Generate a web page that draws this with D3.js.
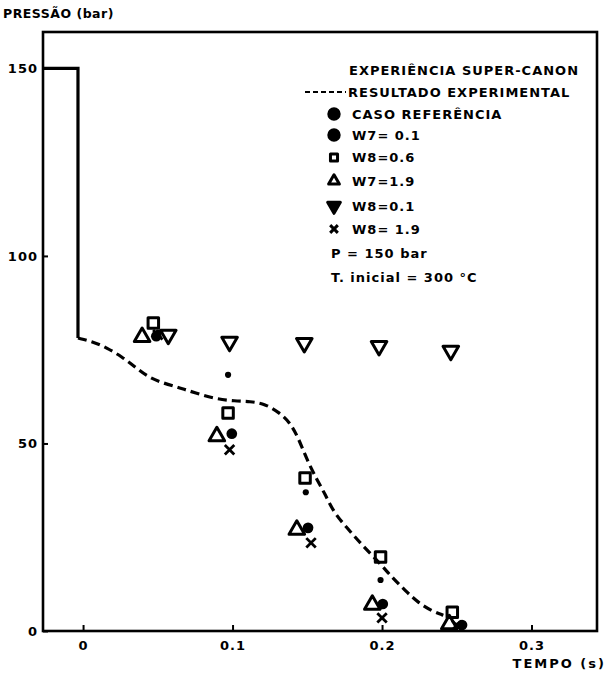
<!DOCTYPE html>
<html><head><meta charset="utf-8">
<script src="https://cdn.jsdelivr.net/npm/d3@7"></script>
<style>
body{margin:0;background:#fff;}
svg text{font-family:"DejaVu Sans",sans-serif;font-weight:bold;fill:#000;}
</style></head>
<body><svg id="c" width="609" height="681"></svg>
<script>
// ---------- data ----------
const xTicks = [0, 0.1, 0.2, 0.3];
const yTicks = [0, 50, 100, 150];
const xTickLabels = ["0", "0.1", "0.2", "0.3"];
const yTickLabels = ["0", "50", "100", "150"];

// solid initial pressure step (bar)
const stepTime = [-0.0268, -0.0034, -0.0034];
const stepPressure = [150, 150, 78.1];

// experimental result (dashed)
const expTime = [-0.0034, 0.0067, 0.016, 0.026, 0.0348, 0.0435, 0.0535, 0.0649, 0.0749, 0.0883, 0.1017, 0.1117, 0.1217, 0.1318, 0.1385, 0.1438, 0.1498, 0.1565, 0.1619, 0.1679, 0.1766, 0.186, 0.1987, 0.206, 0.216, 0.224, 0.234, 0.241];
const expPressure = [78.1, 77.1, 75.5, 73.1, 70.4, 67.7, 66.1, 64.8, 63.5, 61.9, 61.3, 61.2, 60.6, 58.1, 55.5, 51.7, 45.6, 40.3, 36.5, 31.5, 27.5, 23.2, 18.0, 14.6, 10.6, 7.6, 5.2, 4.2];

// simulated cases
const refTime = [0.05, 0.097, 0.149, 0.199, 0.251];
const refPressure = [79.5, 68.3, 37.0, 13.6, 1.5];

const w7_01Time = [0.049, 0.0995, 0.1505, 0.2005, 0.2535];
const w7_01Pressure = [78.6, 52.6, 27.5, 7.2, 1.6];

const w8_06Time = [0.047, 0.097, 0.1485, 0.199, 0.247];
const w8_06Pressure = [82.1, 58.1, 40.8, 19.7, 5.0];

const w7_19Time = [0.0395, 0.0895, 0.143, 0.1935, 0.245];
const w7_19Pressure = [78.4, 51.9, 27.0, 7.0, 1.8];

const w8_01Time = [0.057, 0.098, 0.148, 0.198, 0.246];
const w8_01Pressure = [79.0, 77.1, 76.8, 76.0, 74.7];

const w8_19Time = [0.05, 0.098, 0.1525, 0.2, 0.25];
const w8_19Pressure = [79.0, 48.3, 23.5, 3.5, 1.5];

const legendLabels = ["CASO REFERÊNCIA", "W7= 0.1", "W8=0.6", "W7=1.9", "W8=0.1", "W8= 1.9"];

// ---------- drawing ----------
const svg = d3.select("#c");
const pLeft = 43, pRight = 597, pTop = 32, pBottom = 631;
const x = d3.scaleLinear().domain([-0.0268, 0.3438]).range([pLeft, pRight]);
const y = d3.scaleLinear().domain([0, 159.7]).range([pBottom, pTop]);

// frame
svg.append("rect").attr("x", pLeft).attr("y", pTop).attr("width", pRight-pLeft).attr("height", pBottom-pTop)
  .attr("fill", "none").attr("stroke", "#000").attr("stroke-width", 2.6);

// axes
const xAxis = d3.axisBottom(x).tickValues(xTicks).tickFormat((d,i)=>xTickLabels[i]).tickSizeInner(-6).tickSizeOuter(0).tickPadding(10);
const gx = svg.append("g").attr("transform", `translate(0,${pBottom})`).call(xAxis);
gx.select(".domain").remove();
gx.selectAll("line").attr("stroke-width", 2);
gx.selectAll("text").attr("font-size", 13).attr("letter-spacing", 1).style("font-family","DejaVu Sans").style("font-weight","bold");

const yAxis = d3.axisLeft(y).tickValues(yTicks).tickFormat((d,i)=>yTickLabels[i]).tickSizeInner(-5).tickSizeOuter(0).tickPadding(5);
const gy = svg.append("g").attr("transform", `translate(${pLeft},0)`).call(yAxis);
gy.select(".domain").remove();
gy.selectAll("line").attr("stroke-width", 2);
gy.selectAll("text").attr("font-size", 13).attr("letter-spacing", 1).style("font-family","DejaVu Sans").style("font-weight","bold");

// axis titles
svg.append("text").attr("x", 3).attr("y", 18).attr("font-size", 12.5).attr("letter-spacing", 0.5).text("PRESSÃO (bar)");
svg.append("text").attr("x", 606).attr("y", 668).attr("text-anchor","end").attr("font-size", 13).attr("letter-spacing", 2).text("TEMPO (s)");

// step line
const line = d3.line().x(d=>x(d[0])).y(d=>y(d[1]));
svg.append("path").datum(d3.zip(stepTime, stepPressure)).attr("d", line)
  .attr("fill","none").attr("stroke","#000").attr("stroke-width",3.2);

// dashed experimental curve
const curve = d3.line().x(d=>x(d[0])).y(d=>y(d[1])).curve(d3.curveBasis);
svg.append("path").datum(d3.zip(expTime, expPressure)).attr("d", curve)
  .attr("fill","none").attr("stroke","#000").attr("stroke-width",3.2).attr("stroke-dasharray","9,5");

// markers
function drawSeries(times, press, type, size, filled, rot, sw) {
  const sym = d3.symbol().type(type).size(size);
  svg.append("g").selectAll("path").data(d3.zip(times, press)).join("path")
    .attr("d", sym)
    .attr("transform", d=>`translate(${x(d[0])},${y(d[1])}) rotate(${rot})`)
    .attr("fill", filled ? "#000" : "none")
    .attr("stroke", "#000").attr("stroke-width", sw).attr("stroke-linejoin","round");
}
drawSeries(w8_01Time, w8_01Pressure, d3.symbolTriangle, 105, false, 180, 3);
drawSeries(w8_06Time, w8_06Pressure, d3.symbolSquare, 110, false, 0, 3);
drawSeries(w7_19Time, w7_19Pressure, d3.symbolTriangle, 105, false, 0, 3);
drawSeries(w8_19Time, w8_19Pressure, d3.symbolTimes, 60, false, 0, 2.8);
drawSeries(w7_01Time, w7_01Pressure, d3.symbolCircle, 90, true, 0, 0);
drawSeries(refTime, refPressure, d3.symbolCircle, 30, true, 0, 0);

// legend
const lg = svg.append("g");
const fs = 13, ls = 1;
lg.append("text").attr("x", 349).attr("y", 75).attr("font-size", fs).attr("letter-spacing", ls).text("EXPERIÊNCIA SUPER-CANON");
lg.append("line").attr("x1", 305).attr("x2", 346).attr("y1", 92).attr("y2", 92)
  .attr("stroke","#000").attr("stroke-width",2).attr("stroke-dasharray","5,3");
lg.append("text").attr("x", 348).attr("y", 97).attr("font-size", fs).attr("letter-spacing", ls).text("RESULTADO EXPERIMENTAL");

const legRows = [114, 135, 157.5, 181, 206, 229];
const legTypes = [d3.symbolCircle, d3.symbolCircle, d3.symbolSquare, d3.symbolTriangle, d3.symbolTriangle, d3.symbolTimes];
const legSizes = [85, 85, 50, 50, 70, 40];
const legFill = [true, true, false, false, true, false];
const legRot = [0, 0, 0, 0, 180, 0];
legRows.forEach((ry, i) => {
  lg.append("path").attr("d", d3.symbol().type(legTypes[i]).size(legSizes[i]))
    .attr("transform", `translate(334,${ry}) rotate(${legRot[i]})`)
    .attr("fill", legFill[i] ? "#000" : "none").attr("stroke","#000").attr("stroke-width", 3)
    .attr("stroke-linejoin","round");
  lg.append("text").attr("x", 352).attr("y", ry+4.8).attr("font-size", fs).attr("letter-spacing", ls).text(legendLabels[i]);
});
lg.append("text").attr("x", 331).attr("y", 257.5).attr("font-size", fs).attr("letter-spacing", ls).text("P = 150 bar");
lg.append("text").attr("x", 331).attr("y", 281.5).attr("font-size", fs).attr("letter-spacing", ls).text("T. inicial = 300 °C");
</script></body></html>
